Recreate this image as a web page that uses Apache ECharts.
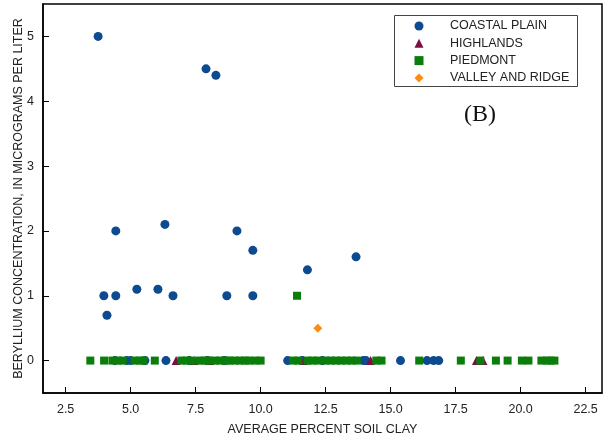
<!DOCTYPE html>
<html>
<head>
<meta charset="utf-8">
<script src="https://cdn.jsdelivr.net/npm/echarts@6/dist/echarts.min.js"></script>
<style>html,body{margin:0;padding:0;background:#fff}#c{width:610px;height:442px}</style>
</head>
<body>
<div id="c"></div>
<script>
// Coastal Plain: [clay, beryllium]
const coastalPlain = [
  [3.75,5.0],[7.9,4.5],[8.28,4.4],[4.43,2.0],[6.32,2.1],[9.09,2.0],[9.7,1.7],
  [3.97,1.0],[4.43,1.0],[4.09,0.7],[5.24,1.1],[6.05,1.1],[6.63,1.0],[8.7,1.0],[9.7,1.0],
  [11.8,1.4],[13.67,1.6],
  [4.4,0],[4.85,0],[5.0,0],[5.55,0],[6.36,0],[7.25,0],[7.95,0],[8.6,0],[11.04,0],[11.6,0],
  [12.38,0],[13.95,0],[14.05,0],[15.38,0],[16.4,0],[16.65,0],[16.85,0]
];
const highlands = [
  [6.75,0],[7.45,0],[8.05,0],[11.65,0],[14.23,0],[18.3,0],[18.55,0]
];
const piedmont = [
  [11.4,1.0],
  [3.45,0],[3.98,0],[4.3,0],[4.5,0],[4.7,0],[5.15,0],[5.35,0],[5.5,0],[5.93,0],[6.95,0],
  [7.15,0],[7.35,0],[7.65,0],[7.85,0],[8.0,0],[8.25,0],[8.45,0],[8.65,0],[8.8,0],[9.0,0],
  [9.2,0],[9.4,0],[9.55,0],[9.8,0],[10.0,0],[11.25,0],[11.45,0],[11.8,0],[12.0,0],[12.2,0],
  [12.5,0],[12.7,0],[12.9,0],[13.1,0],[13.3,0],[13.5,0],[13.7,0],[14.45,0],[14.65,0],
  [16.1,0],[17.7,0],[18.45,0],[19.05,0],[19.5,0],[20.05,0],[20.3,0],[20.8,0],[21.0,0],
  [21.15,0],[21.3,0]
];
const valleyAndRidge = [[12.2,0.5]];
const xTicks = [2.5,5.0,7.5,10.0,12.5,15.0,17.5,20.0,22.5];
const yTicks = [0,1,2,3,4,5];

const chart = echarts.init(document.getElementById('c'), null, {renderer:'canvas'});
const font = 'Liberation Sans, Arial, sans-serif';
chart.setOption({
  animation: false,
  grid: {left:43, right:8, top:4, bottom:49, show:true, borderColor:'#000', borderWidth:1.5, backgroundColor:'transparent'},
  xAxis: {
    type:'value', min:1.63, max:23.13,
    name:'AVERAGE PERCENT SOIL CLAY', nameLocation:'middle', nameGap:30,
    nameTextStyle:{fontFamily:font, fontSize:12.5, color:'#222'},
    axisLine:{show:true, onZero:false, lineStyle:{color:'#000', width:1.5}},
    axisTick:{show:true, inside:true, length:6, customValues:xTicks, lineStyle:{color:'#000', width:1}},
    axisLabel:{customValues:xTicks, formatter:v=>Number(v).toFixed(1), fontFamily:font, fontSize:12.5, color:'#222', margin:10},
    splitLine:{show:false}
  },
  yAxis: {
    type:'value', min:-0.5, max:5.5,
    name:'BERYLLIUM CONCENTRATION, IN MICROGRAMS PER LITER', nameLocation:'middle', nameGap:18,
    nameMoveOverlap:false,
    nameTextStyle:{fontFamily:font, fontSize:12.5, color:'#222'},
    axisLine:{show:true, onZero:false, lineStyle:{color:'#000', width:1.5}},
    axisTick:{show:true, inside:true, length:6, customValues:yTicks, lineStyle:{color:'#000', width:1}},
    axisLabel:{customValues:yTicks, formatter:v=>String(v), fontFamily:font, fontSize:12.5, color:'#222', margin:9},
    splitLine:{show:false}
  },
  legend: {
    orient:'vertical', left:414.5, top:19.5, itemWidth:9, itemHeight:9, itemGap:4.3,
    padding:0,
    textStyle:{fontFamily:font, fontSize:12.5, color:'#222', padding:[0,0,0,21.5]},
    data:['COASTAL PLAIN','HIGHLANDS','PIEDMONT','VALLEY AND RIDGE']
  },
  graphic: [
    {type:'rect', shape:{x:394.5, y:15.5, width:183, height:71}, style:{fill:'none', stroke:'#444', lineWidth:1}, z:100},
    {type:'text', x:480, y:115, style:{text:'(B)', font:'24px "Liberation Serif", "Times New Roman", serif', fill:'#111', textAlign:'center', textVerticalAlign:'middle'}, z:100}
  ],
  series: [
    {name:'COASTAL PLAIN', type:'scatter', data:coastalPlain, symbol:'circle', symbolSize:9, itemStyle:{color:'#0d4a8f', opacity:1}},
    {name:'HIGHLANDS', type:'scatter', data:highlands, symbol:'triangle', symbolSize:9, itemStyle:{color:'#7b0f45', opacity:1}},
    {name:'PIEDMONT', type:'scatter', data:piedmont, symbol:'rect', symbolSize:8, itemStyle:{color:'#0a7d0a', opacity:1}},
    {name:'VALLEY AND RIDGE', type:'scatter', data:valleyAndRidge, symbol:'diamond', symbolSize:9, itemStyle:{color:'#ff8c0a', opacity:1}}
  ]
});
</script>
</body>
</html>
